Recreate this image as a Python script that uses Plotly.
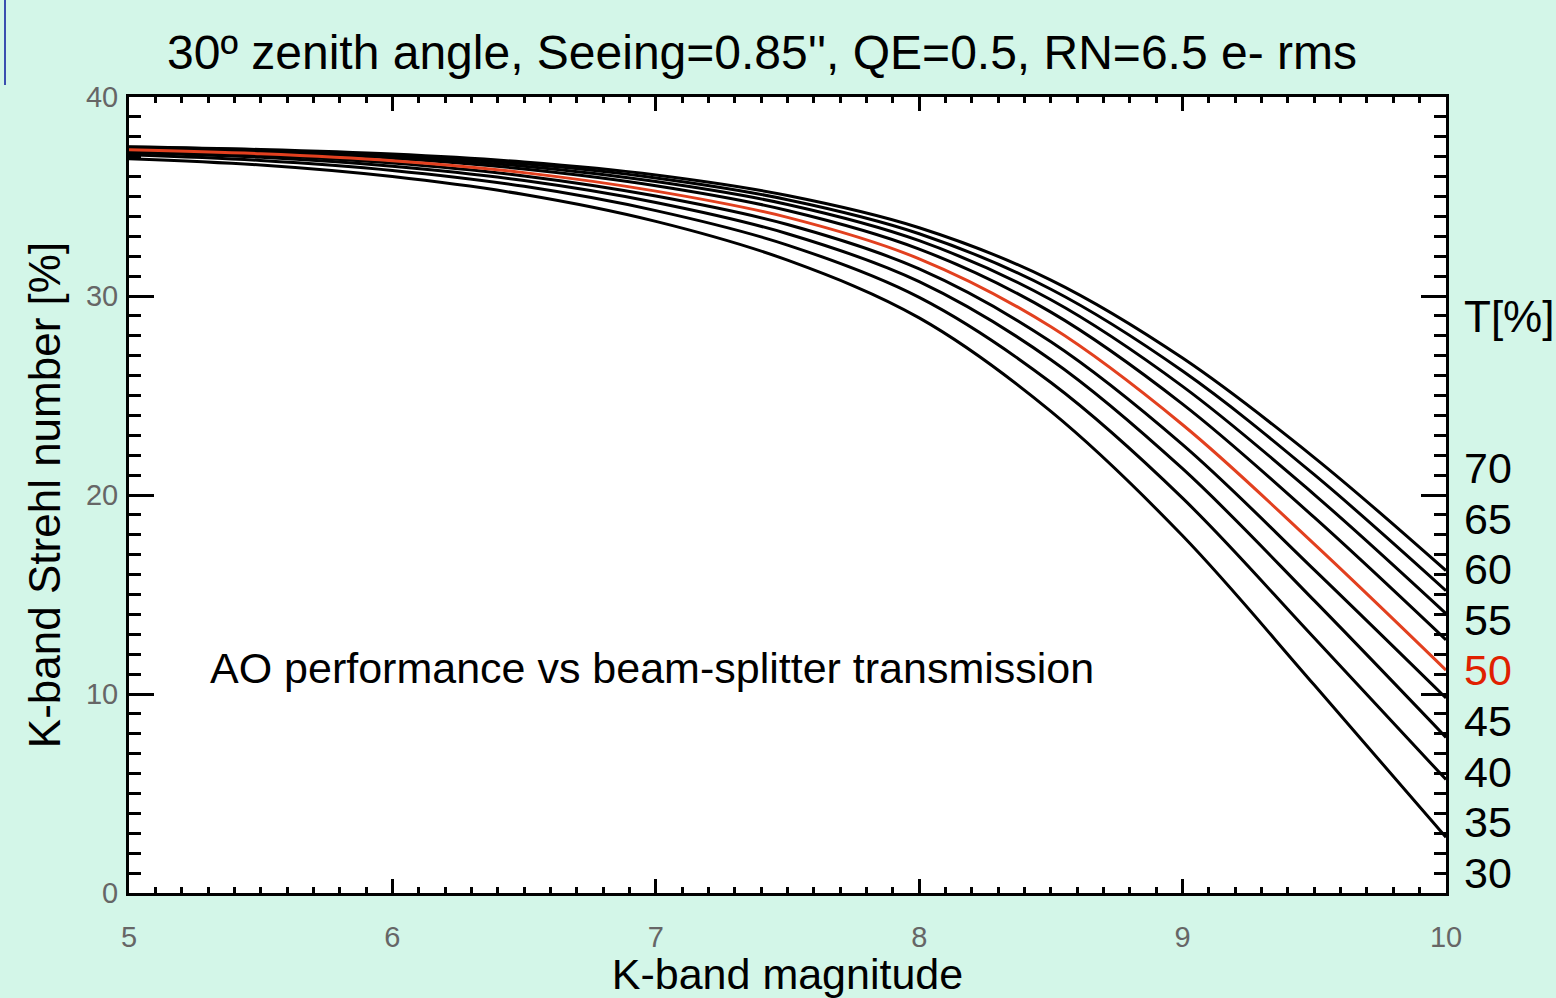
import plotly.graph_objects as go

# K-band magnitude sample points
magnitude = [5.0, 5.5, 6.0, 6.5, 7.0, 7.5, 8.0, 8.5, 9.0, 9.5, 10.0]

# Beam-splitter transmission values [%]
transmissions = [30, 35, 40, 45, 50, 55, 60, 65, 70]

# K-band Strehl number [%] per transmission
strehl_T30 = [36.90, 36.58, 36.00, 35.10, 33.75, 31.80, 28.90, 24.20, 17.95, 10.45, 2.80]
strehl_T35 = [37.10, 36.81, 36.31, 35.51, 34.29, 32.56, 29.93, 25.65, 19.84, 12.81, 5.70]
strehl_T40 = [37.20, 36.97, 36.52, 35.80, 34.70, 33.13, 30.72, 26.80, 21.32, 14.69, 7.82]
strehl_T45 = [37.28, 37.07, 36.68, 36.03, 35.02, 33.59, 31.36, 27.70, 22.53, 16.24, 9.80]
strehl_T50 = [37.35, 37.15, 36.80, 36.20, 35.27, 33.95, 31.87, 28.45, 23.53, 17.53, 11.20]
strehl_T55 = [37.40, 37.23, 36.92, 36.38, 35.54, 34.30, 32.36, 29.19, 24.57, 18.87, 12.72]
strehl_T60 = [37.44, 37.29, 37.00, 36.52, 35.75, 34.60, 32.78, 29.81, 25.46, 20.02, 14.04]
strehl_T65 = [37.47, 37.33, 37.07, 36.64, 35.93, 34.84, 33.13, 30.34, 26.23, 21.02, 15.19]
strehl_T70 = [37.50, 37.36, 37.13, 36.73, 36.08, 35.05, 33.43, 30.80, 26.88, 21.88, 16.20]

strehl = {30: strehl_T30, 35: strehl_T35, 40: strehl_T40, 45: strehl_T45, 50: strehl_T50,
          55: strehl_T55, 60: strehl_T60, 65: strehl_T65, 70: strehl_T70}

highlight_T = 50
label_order = [70, 65, 60, 55, 50, 45, 40, 35, 30]

x_ticks = [5, 6, 7, 8, 9, 10]
y_ticks = [0, 10, 20, 30, 40]

BG = "#d3f6e8"
BLACK = "#000000"
RED_LINE = "#e2401f"
RED_TEXT = "#e02000"
FONT = "Liberation Sans, Arial, sans-serif"

fig = go.Figure()

draw_order = [t for t in transmissions if t != highlight_T] + [highlight_T]
for t in draw_order:
    fig.add_trace(go.Scatter(
        x=magnitude, y=strehl[t], mode="lines",
        line=dict(color=RED_LINE if t == highlight_T else BLACK, width=3,
                  shape="spline", smoothing=1.0),
        name=f"T={t}%", showlegend=False,
    ))

# plot area pixel geometry
W, H = 1556, 998
L, R, T_, B = 129, 110, 97, 105
plot_h = H - T_ - B

fig.update_layout(
    width=W, height=H,
    paper_bgcolor=BG, plot_bgcolor="white",
    margin=dict(l=L, r=R, t=T_, b=B, pad=0, autoexpand=False),
    font=dict(family=FONT, color="black"),
    title=dict(text="30º zenith angle, Seeing=0.85'', QE=0.5, RN=6.5 e- rms",
               x=762 / W, xanchor="center", y=1 - 52 / H, yanchor="middle",
               xref="container", yref="container",
               font=dict(size=48, family=FONT, color="black")),
    showlegend=False,
)

fig.update_xaxes(
    range=[5, 10], tickvals=x_ticks, ticktext=[str(v) for v in x_ticks],
    showgrid=False, zeroline=False, automargin=False,
    showline=True, linecolor="black", linewidth=3, mirror="allticks",
    ticks="inside", ticklen=14, tickwidth=3, tickcolor="black",
    minor=dict(dtick=0.1, ticks="inside", ticklen=6, tickwidth=3, tickcolor="black", showgrid=False),
    tickfont=dict(size=29, color="#666666", family=FONT),
    ticklabelstandoff=16,
    title=dict(text="K-band magnitude", font=dict(size=43, color="black", family=FONT), standoff=6),
)
fig.update_yaxes(
    range=[0, 40], tickvals=y_ticks, ticktext=[str(v) for v in y_ticks],
    showgrid=False, zeroline=False, automargin=False,
    showline=True, linecolor="black", linewidth=3, mirror="allticks",
    ticks="inside", ticklen=25, tickwidth=3, tickcolor="black",
    minor=dict(dtick=1, ticks="inside", ticklen=12, tickwidth=3, tickcolor="black", showgrid=False),
    tickfont=dict(size=29, color="#666666", family=FONT),
    ticklabelstandoff=2,
    title=dict(text="K-band Strehl number [%]", font=dict(size=44, color="black", family=FONT), standoff=12),
)

# in-plot annotation
fig.add_annotation(x=5.3, y=11.3, xref="x", yref="y", text="AO performance vs beam-splitter transmission",
                   showarrow=False, xanchor="left", yanchor="middle",
                   font=dict(size=43, color="black", family=FONT))

# right-hand transmission labels
lab_x = (1462 - L) / (W - L - R)
fig.add_annotation(x=lab_x, y=(H - B - 316) / plot_h, xref="paper", yref="paper", text="T[%]",
                   showarrow=False, xanchor="left", yanchor="middle",
                   font=dict(size=44, color="black", family=FONT))
for i, t in enumerate(label_order):
    ypx = 468 + i * 50.6
    fig.add_annotation(x=lab_x, y=(H - B - ypx) / plot_h, xref="paper", yref="paper", text=str(t),
                       showarrow=False, xanchor="left", yanchor="middle",
                       font=dict(size=43, color=RED_TEXT if t == highlight_T else "black", family=FONT))

# slide border fragment at top-left
fig.add_shape(type="line", xref="paper", yref="paper",
              x0=(5 - L) / (W - L - R), x1=(5 - L) / (W - L - R),
              y0=(H - B - 0) / plot_h, y1=(H - B - 85) / plot_h,
              line=dict(color="#3b4fb0", width=2))

fig.write_html("out.html", config={"displayModeBar": False},
               post_script="document.body.style.margin='0px';document.body.style.overflow='hidden';")
